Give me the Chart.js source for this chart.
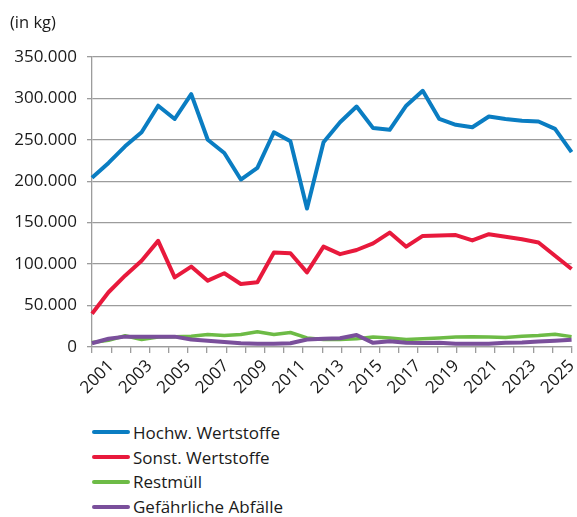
<!DOCTYPE html>
<html>
<head>
<meta charset="utf-8">
<script src="https://cdn.jsdelivr.net/npm/chart.js@4.4.1/dist/chart.umd.min.js"></script>
<style>
  body { margin: 0; background: #fff; font-family: "Open Sans", sans-serif; overflow: hidden; }
  /* a bit wider than the page: Chart.js keeps room on the right for the last rotated label */
  #wrap { position: relative; width: 589px; height: 410px; }
  #legend { position: absolute; left: 92px; top: 420px; }
  .item { display: flex; align-items: center; height: 24.8px; font-size: 17px; color: #1a1a1a; }
  .swatch { width: 38px; height: 4px; border-radius: 2px; margin-right: 3px; }
</style>
</head>
<body>
<div id="wrap"><canvas id="chart"></canvas></div>
<div id="legend"></div>
<script>
// x axis labels (years) and the 30 measurement points spread across them
const years = ['2000', '2001', '2002', '2003', '2004', '2005', '2006', '2007', '2008', '2009',
  '2010', '2011', '2012', '2013', '2014', '2015', '2016', '2017', '2018', '2019',
  '2020', '2021', '2022', '2023', '2024', '2025'];
const points = ['1', '2', '3', '4', '5', '6', '7', '8', '9', '10',
  '11', '12', '13', '14', '15', '16', '17', '18', '19', '20',
  '21', '22', '23', '24', '25', '26', '27', '28', '29', '30'];

// values in kg
const hochwWertstoffe = [204000, 222000, 242000, 259000, 291000, 275000, 305000, 250000, 234000, 202000,
  216000, 259000, 248000, 167000, 247000, 271000, 290000, 264000, 262000, 291000,
  309000, 275000, 268000, 265000, 278000, 275000, 273000, 272000, 263000, 235000];
const sonstWertstoffe = [40000, 66000, 86000, 104000, 128000, 84000, 97000, 80000, 89000, 76000,
  78000, 114000, 113000, 90000, 121000, 112000, 117000, 125000, 138000, 121000,
  134000, 134500, 135000, 128500, 136000, 133000, 130000, 126000, 110000, 94000];
const restmuell = [5500, 8000, 13500, 9000, 12000, 12500, 13000, 15000, 14000, 15000,
  18500, 15000, 17500, 11000, 9000, 9000, 10000, 12000, 11000, 9000,
  10000, 11000, 12000, 12500, 12000, 11500, 13000, 14000, 15500, 12500];
const gefaehrlicheAbfaelle = [4500, 10000, 12500, 12500, 12300, 12500, 9000, 7500, 6000, 4500,
  4000, 4000, 4500, 9000, 10000, 10500, 14500, 5000, 7000, 5000,
  4800, 5000, 4000, 4000, 4000, 5000, 5500, 6500, 7500, 8800];

const seriesNames = ['Hochw. Wertstoffe', 'Sonst. Wertstoffe', 'Restmüll', 'Gefährliche Abfälle'];
const seriesColors = ['#0a7dc2', '#e8193c', '#6dbb46', '#7a4f9b'];

const yMax = 350000;
const yStep = 50000;

function formatDE(v) {
  return String(v).replace(/\B(?=(\d{3})+(?!\d))/g, '.');
}

const fontFamily = '"Open Sans", sans-serif';
const textColor = '#1a1a1a';
const gridColor = '#9c9c9c';

const values = [hochwWertstoffe, sonstWertstoffe, restmuell, gefaehrlicheAbfaelle];
const datasets = values.map((data, i) => ({
  label: seriesNames[i],
  data: data,
  borderColor: seriesColors[i],
  backgroundColor: seriesColors[i],
  borderWidth: i === 2 ? 3.5 : 4,
  pointRadius: 0,
  tension: 0,
  borderJoinStyle: 'round',
  order: 3 - i,
}));

new Chart(document.getElementById('chart'), {
  type: 'line',
  data: { labels: points, datasets: datasets },
  options: {
    responsive: true,
    maintainAspectRatio: false,
    animation: false,
    layout: { padding: { left: 10, right: 0, top: 0, bottom: 0 } },
    plugins: {
      legend: { display: false },
      tooltip: { enabled: false },
      title: {
        display: true,
        text: '(in kg)',
        align: 'start',
        color: textColor,
        font: { family: fontFamily, size: 16.5, weight: 'normal' },
        padding: { top: 13, bottom: 24 },
      },
    },
    scales: {
      x: {
        display: false,
      },
      xYears: {
        type: 'category',
        position: 'bottom',
        labels: years,
        offset: false,
        grid: { drawOnChartArea: false, tickLength: 6, color: gridColor, lineWidth: 1.3 },
        border: { color: gridColor, width: 1.3 },
        ticks: {
          autoSkip: false,
          minRotation: 45,
          maxRotation: 45,
          color: textColor,
          padding: 3,
          font: { family: fontFamily, size: 17 },
          callback: function (value, index) {
            const y = years[index];
            return Number(y) % 2 === 1 ? y : '';
          },
        },
        afterFit: function (scale) { scale.height = 63; },
      },
      y: {
        min: 0,
        max: yMax,
        ticks: {
          stepSize: yStep,
          color: textColor,
          padding: 10,
          font: { family: fontFamily, size: 17 },
          callback: function (value) { return formatDE(value); },
        },
        grid: { color: gridColor, lineWidth: 1.3, tickLength: 5 },
        border: { color: gridColor, width: 1.3 },
        afterFit: function (scale) { scale.width = 82; },
      },
    },
  },
});

// vertical legend under the chart, built from the datasets
const legend = document.getElementById('legend');
datasets.forEach(ds => {
  const row = document.createElement('div');
  row.className = 'item';
  const sw = document.createElement('span');
  sw.className = 'swatch';
  sw.style.background = ds.borderColor;
  const label = document.createElement('span');
  label.textContent = ds.label;
  row.appendChild(sw);
  row.appendChild(label);
  legend.appendChild(row);
});
</script>
</body>
</html>
